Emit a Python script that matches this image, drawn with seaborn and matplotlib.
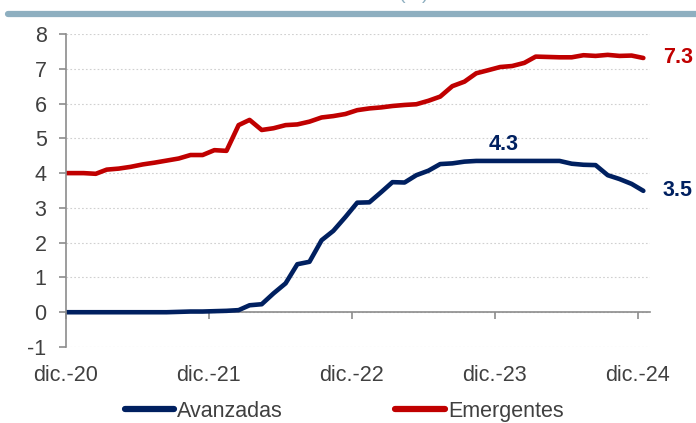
import pandas as pd
import seaborn as sns
import matplotlib.pyplot as plt
import matplotlib.lines as mlines

# Monthly data (mid-month), nov-2020 .. dic-2024
months = pd.date_range('2020-11-01', periods=50, freq='MS') + pd.Timedelta(days=14)

avanzadas = [0.0, 0.0, 0.0, 0.0, 0.0, 0.0, 0.0, 0.0, 0.0, 0.0, 0.01,
             0.02, 0.02, 0.03, 0.04, 0.06, 0.2, 0.23, 0.54, 0.83, 1.38,
             1.45, 2.07, 2.34, 2.74, 3.15, 3.16, 3.46, 3.74, 3.73, 3.94,
             4.07, 4.26, 4.28, 4.33, 4.35, 4.35, 4.35, 4.35, 4.35, 4.35,
             4.35, 4.35, 4.27, 4.24, 4.23, 3.94, 3.83, 3.69, 3.49]

emergentes = [4.0, 4.0, 4.0, 3.98, 4.1, 4.13, 4.18, 4.25, 4.3, 4.36, 4.42,
              4.52, 4.52, 4.66, 4.64, 5.38, 5.53, 5.24, 5.29, 5.38, 5.40,
              5.48, 5.6, 5.64, 5.7, 5.81, 5.86, 5.89, 5.93, 5.96, 5.98,
              6.08, 6.2, 6.5, 6.63, 6.87, 6.96, 7.05, 7.08, 7.17, 7.35,
              7.34, 7.33, 7.33, 7.39, 7.37, 7.4, 7.37, 7.38, 7.31]

series_names = ['Avanzadas', 'Emergentes']
series_colors = ['#002060', '#C00000']

tick_dates = pd.to_datetime(['2020-12-01', '2021-12-01', '2022-12-01', '2023-12-01', '2024-12-01'])
tick_labels = ['dic.-20', 'dic.-21', 'dic.-22', 'dic.-23', 'dic.-24']
y_ticks = list(range(-1, 9))

df = pd.concat([
    pd.DataFrame({'fecha': months, 'valor': avanzadas, 'serie': 'Avanzadas'}),
    pd.DataFrame({'fecha': months, 'valor': emergentes, 'serie': 'Emergentes'}),
])

#--------------------------------------------------------------------------------------------------------------------------
sns.set_style('white')
plt.rcParams['font.family'] = ['Liberation Sans', 'DejaVu Sans']
plt.rcParams['axes.unicode_minus'] = False
text_color = '#404040'
axis_color = '#8c8c8c'
fs = 15.5

fig = plt.figure(figsize=(6.96, 4.23), dpi=100)
ax = fig.add_axes([66 / 696, 1 - 347 / 423, (650 - 66) / 696, (347 - 34) / 423])

sns.lineplot(data=df, x='fecha', y='valor', hue='serie', hue_order=series_names,
             palette=series_colors, linewidth=3.3, legend=False, ax=ax,
             solid_capstyle='round')

ax.set_xlim(pd.Timestamp('2020-12-01'), pd.Timestamp('2025-01-01'))
ax.set_ylim(-1, 8)
ax.set_xlabel('')
ax.set_ylabel('')

# dotted gridlines
for v in y_ticks:
    ax.axhline(v, color='#d0d0d0', linestyle=(0, (1.5, 2)), linewidth=0.8, zorder=0)

# spines
for s in ['top', 'right']:
    ax.spines[s].set_visible(False)
ax.spines['left'].set_color(axis_color)
ax.spines['left'].set_linewidth(1.2)
ax.spines['bottom'].set_position(('data', 0))
ax.spines['bottom'].set_color(axis_color)
ax.spines['bottom'].set_linewidth(1.2)
ax.spines['bottom'].set_zorder(1)

ax.set_yticks(y_ticks)
ax.set_xticks(tick_dates)
ax.set_xticklabels(tick_labels)
ax.tick_params(axis='y', direction='out', length=5, width=1.2, color=axis_color,
               labelsize=fs, labelcolor=text_color, pad=9, left=True)
ax.tick_params(axis='x', direction='out', length=5, width=1.2, color=axis_color,
               labelsize=fs, labelcolor=text_color, pad=33, bottom=True)

# end / peak labels
ax.annotate('7.3', xy=(months[-1], emergentes[-1]), xytext=(14, 0), textcoords='offset points',
            ha='left', va='center', color=series_colors[1], fontsize=fs, fontweight='bold',
            annotation_clip=False)
ax.annotate('3.5', xy=(months[-1], avanzadas[-1]), xytext=(14, 0), textcoords='offset points',
            ha='left', va='center', color=series_colors[0], fontsize=fs, fontweight='bold',
            annotation_clip=False)
ax.annotate('4.3', xy=(months[38], 4.35), xytext=(-6, 12), textcoords='offset points',
            ha='center', va='center', color=series_colors[0], fontsize=fs, fontweight='bold')

# legend
handles = [mlines.Line2D([], [], color=c, linewidth=4.5, solid_capstyle='round') for c in series_colors]
fig.legend(handles, series_names, loc='center', bbox_to_anchor=(344 / 696, 1 - 411 / 423), ncol=2,
           frameon=False, fontsize=fs, handlelength=2.3, handletextpad=0.15, columnspacing=5.2,
           labelcolor=text_color)

# top band
fig.add_artist(mlines.Line2D([8 / 696, 1], [1 - 14 / 423] * 2, color='#8EAFC0', linewidth=4.5,
                             transform=fig.transFigure))
fig.text(414 / 696, 1.012, '(%)', ha='center', va='center', fontsize=14, color='#8EAFC0')

fig.savefig('out.png', dpi=100)
